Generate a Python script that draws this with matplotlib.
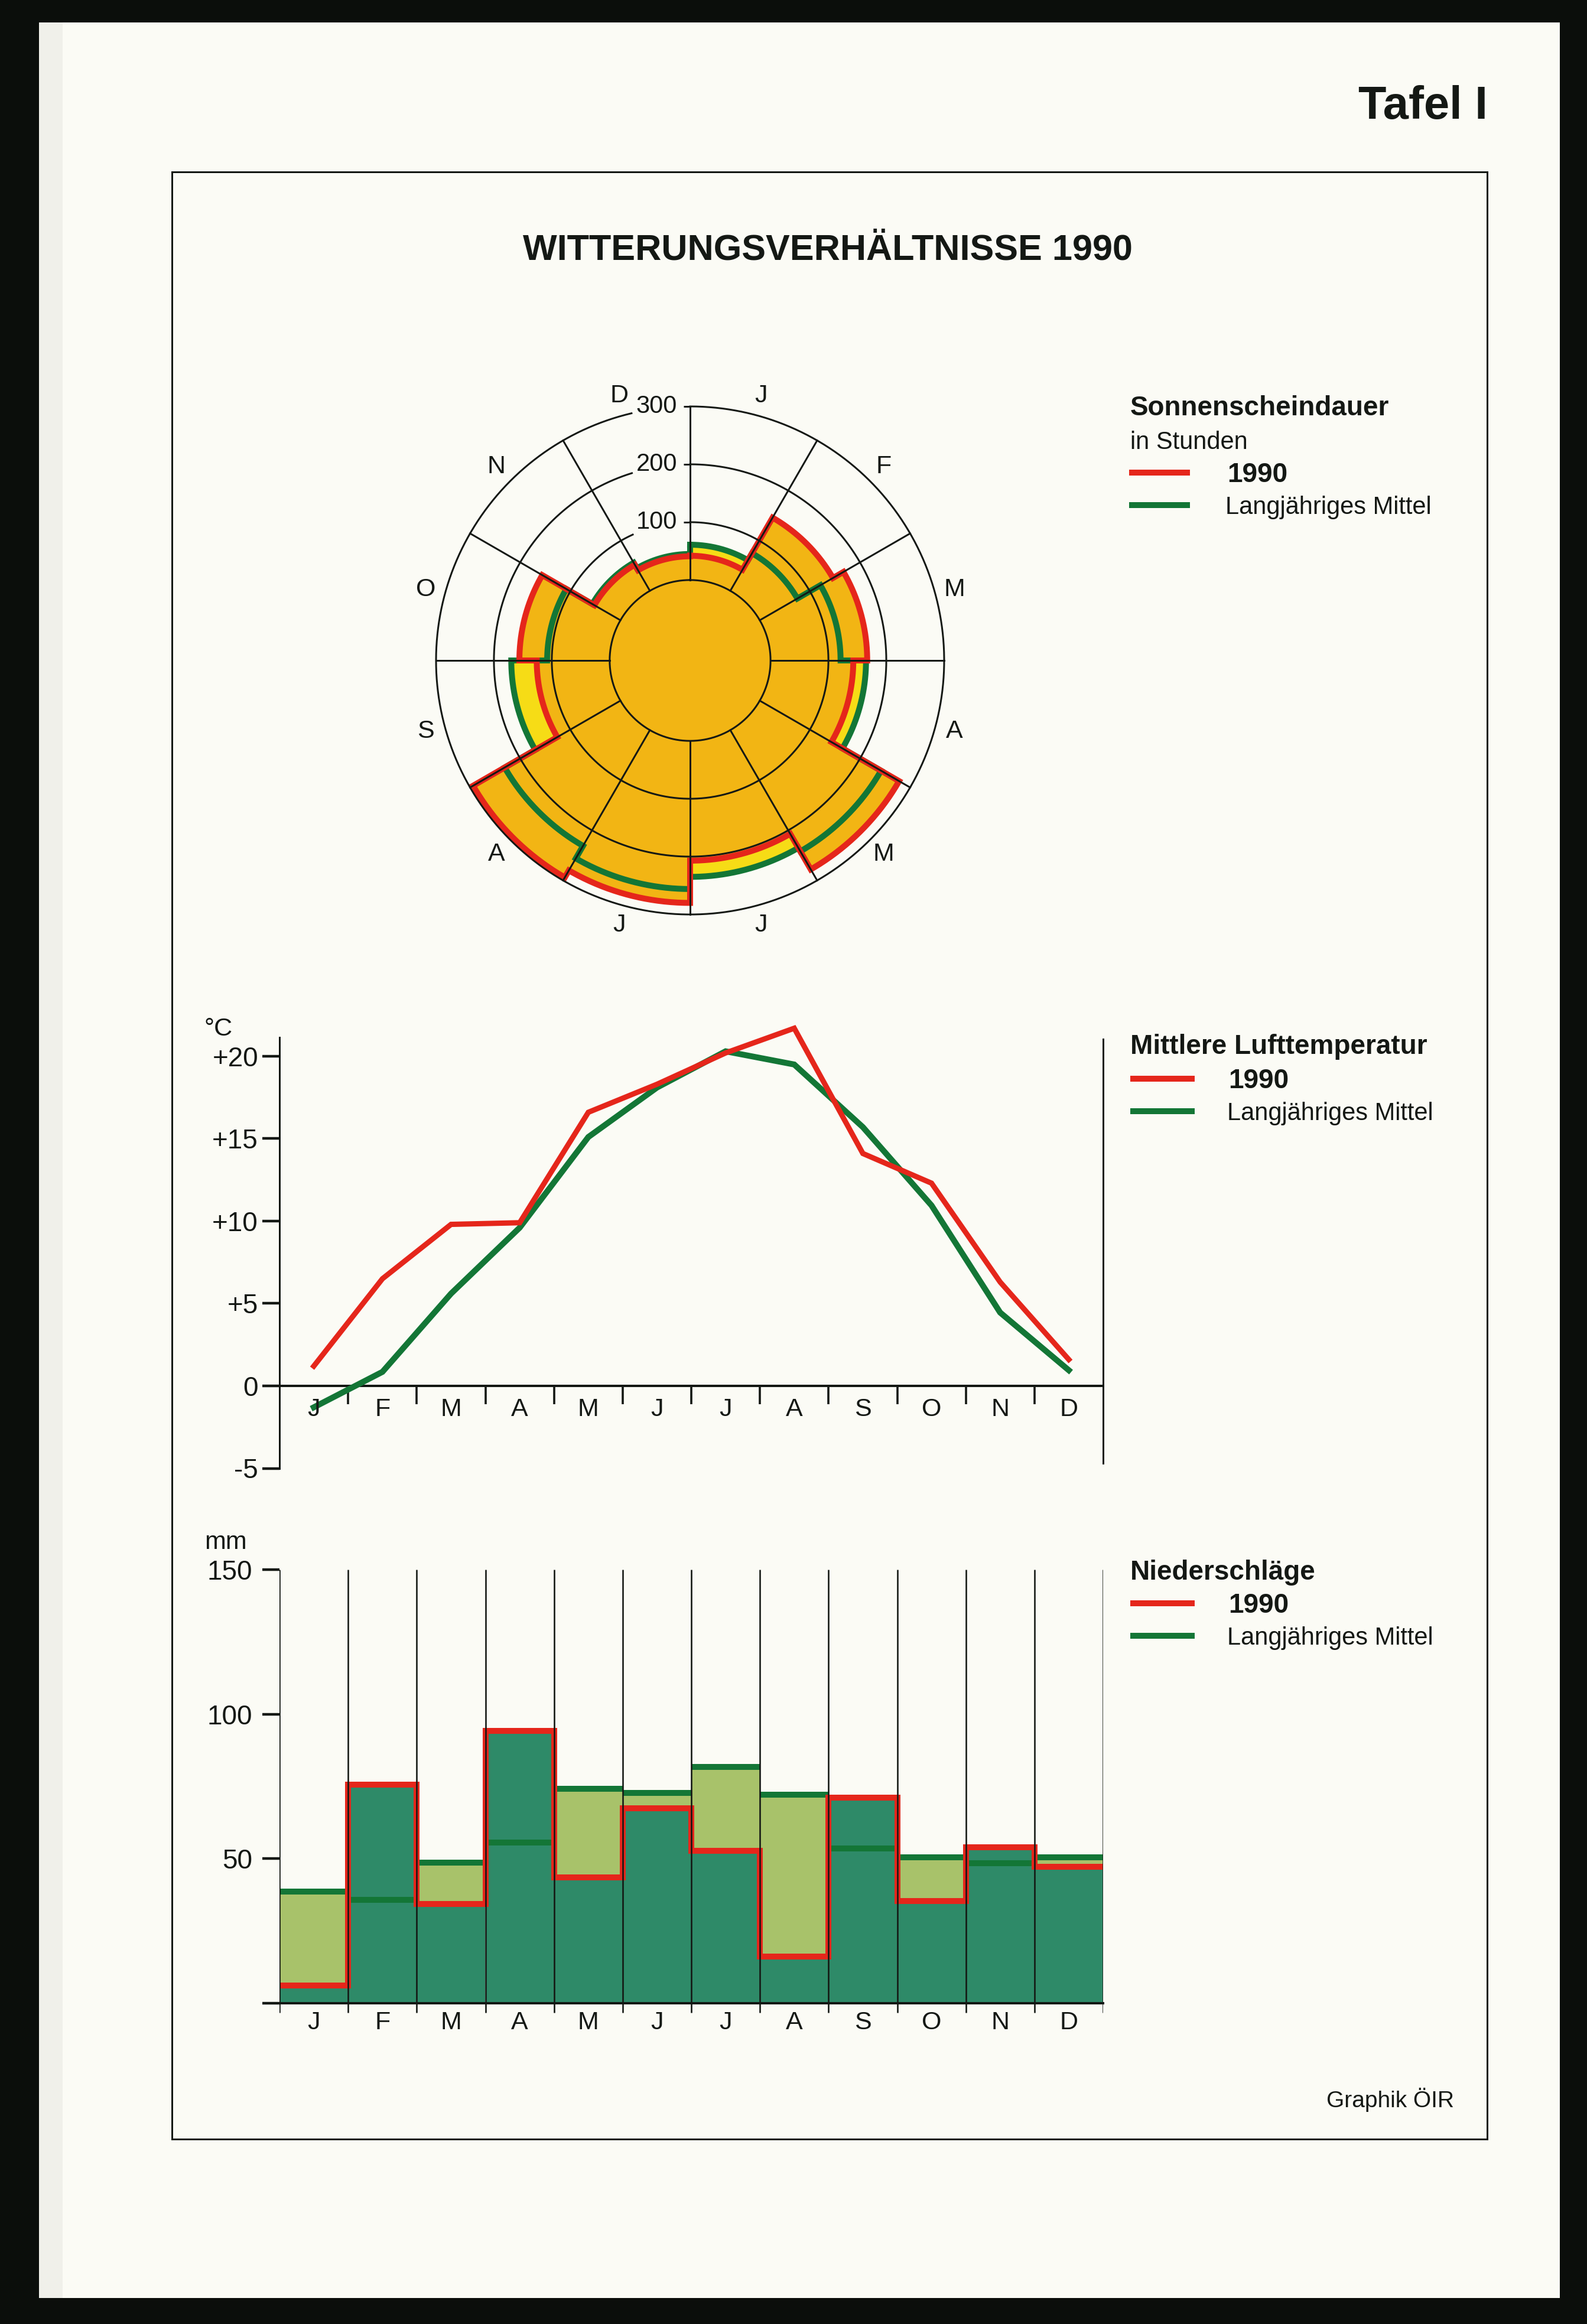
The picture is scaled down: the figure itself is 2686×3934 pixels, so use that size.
import numpy as np
import matplotlib
matplotlib.use('Agg')
import matplotlib.pyplot as plt
from matplotlib.patches import Rectangle

plt.rcParams['font.family'] = ['Liberation Sans', 'DejaVu Sans']

# ---------------- data ----------------
months = ['J', 'F', 'M', 'A', 'M', 'J', 'J', 'A', 'S', 'O', 'N', 'D']

# Sonnenscheindauer (hours)
sun_1990 = [42, 146, 167, 143, 278, 207, 280, 294, 126, 156, 52, 41]
sun_mean = [61, 75, 121, 165, 242, 235, 256, 231, 170, 108, 56, 45]
sun_rings = [100, 200, 300]

# Mittlere Lufttemperatur (deg C)
temp_1990 = [1.2, 6.5, 9.8, 9.9, 16.6, 18.3, 20.2, 21.7, 14.1, 12.3, 6.3, 1.6]
temp_mean = [-1.3, 0.85, 5.6, 9.6, 15.1, 18.1, 20.3, 19.5, 15.7, 10.95, 4.45, 0.95]
temp_ticks = [-5, 0, 5, 10, 15, 20]
temp_ticklabels = ['-5', '0', '+5', '+10', '+15', '+20']

# Niederschlaege (mm)
prec_1990 = [6.2, 75.6, 34.4, 94.2, 43.5, 67.4, 52.7, 16.2, 71.1, 35.4, 53.9, 47.3]
prec_mean = [38.6, 35.7, 48.6, 55.6, 74.2, 72.7, 81.8, 72.1, 53.5, 50.4, 48.4, 50.4]
prec_ticks = [0, 50, 100, 150]
prec_ticklabels = ['', '50', '100', '150']

# ---------------- style ----------------
W, H = 2686, 3934
DPI = 100
PX = 72.0 / DPI          # points per pixel
PAPER = '#FBFBF5'
INK = '#141814'
RED = '#E5261B'
GREEN = '#137636'
ORANGE = '#F2B514'
YELLOW = '#F6DC16'
TEAL = '#2E8A68'
LIGHT = '#A8C26A'
LW_DATA = 10 * PX
LW_GRID = 3 * PX

fig = plt.figure(figsize=(W / DPI, H / DPI), dpi=DPI, facecolor='#0b0e0b')


def rect(x0, y0, x1, y1):
    return [x0 / W, 1 - y1 / H, (x1 - x0) / W, (y1 - y0) / H]


# background / page in pixel coordinates
bg = fig.add_axes([0, 0, 1, 1], zorder=0)
bg.set_xlim(0, W)
bg.set_ylim(H, 0)
bg.axis('off')
bg.add_patch(Rectangle((66, 38), 2640 - 66, 3890 - 38, facecolor=PAPER, edgecolor='none'))
bg.add_patch(Rectangle((66, 38), 40, 3890 - 38, facecolor='#F0F0EA', edgecolor='none'))
bg.add_patch(Rectangle((291, 291), 2517 - 291, 3621 - 291, facecolor='none',
                       edgecolor=INK, lw=3 * PX))


def put(x, yc, s, size, weight='normal', ha='left'):
    em = size / PX
    bg.text(x, yc + 0.716 * em / 2, s, fontsize=size, fontweight=weight,
            ha=ha, va='baseline', color=INK)


def legline(x0, x1, y, c):
    bg.plot([x0, x1], [y, y], color=c, lw=10 * PX, solid_capstyle='butt')


put(2518, 173, 'Tafel I', 56, 'bold', ha='right')
put(1401, 418, 'WITTERUNGSVERHÄLTNISSE 1990', 44, 'bold', ha='center')

# legend 1
put(1913, 687, 'Sonnenscheindauer', 33, 'bold')
put(1913, 745, 'in Stunden', 30)
legline(1911, 2014, 800, RED)
put(2077, 800, '1990', 33, 'bold')
legline(1911, 2014, 855, GREEN)
put(2074, 855, 'Langjähriges Mittel', 30)

# legend 2
put(1913, 1768, 'Mittlere Lufttemperatur', 33, 'bold')
legline(1913, 2022, 1826, RED)
put(2079, 1826, '1990', 33, 'bold')
legline(1913, 2022, 1881, GREEN)
put(2077, 1881, 'Langjähriges Mittel', 30)

# legend 3
put(1913, 2658, 'Niederschläge', 33, 'bold')
legline(1913, 2022, 2714, RED)
put(2079, 2714, '1990', 33, 'bold')
legline(1913, 2022, 2769, GREEN)
put(2077, 2769, 'Langjähriges Mittel', 30)

put(2461, 3553, 'Graphik ÖIR', 28, ha='right')
put(346, 1738, '°C', 31)
put(346, 2607, 'mm', 31)

# ---------------- polar: Sonnenscheindauer ----------------
CX, CY, RPX = 1168, 1118, 430
R0 = 139
axp = fig.add_axes(rect(CX - RPX, CY - RPX, CX + RPX, CY + RPX), projection='polar', zorder=2)
axp.set_theta_zero_location('N')
axp.set_theta_direction(-1)
axp.set_ylim(-R0, 300)
axp.axis('off')

edges = np.deg2rad(np.arange(13) * 30.0)
s90 = np.array(sun_1990, float)
smn = np.array(sun_mean, float)
axp.bar(edges[:-1], s90 + R0, width=np.pi / 6, bottom=-R0, align='edge',
        color=ORANGE, edgecolor=ORANGE, lw=1, zorder=1)
more = smn > s90
axp.bar(edges[:-1][more], (smn - s90)[more], width=np.pi / 6, bottom=s90[more],
        align='edge', color=YELLOW, edgecolor=YELLOW, lw=0.5, zorder=1)


def polar_step(vals, n=60):
    th, rr = [], []
    for i, v in enumerate(vals):
        t = np.linspace(edges[i], edges[i + 1], n)
        th.extend(t)
        rr.extend([v] * n)
    th.append(edges[-1])
    rr.append(vals[0])
    return np.array(th), np.array(rr)


th, rr = polar_step(sun_mean)
axp.plot(th, rr, color=GREEN, lw=LW_DATA, solid_joinstyle='miter', clip_on=False, zorder=3)
th, rr = polar_step(sun_1990)
axp.plot(th, rr, color=RED, lw=LW_DATA, solid_joinstyle='miter', clip_on=False, zorder=4)

full = np.linspace(0, 2 * np.pi, 721)
axp.plot(full, np.zeros_like(full), color=INK, lw=LW_GRID, clip_on=False, zorder=6)
for v in sun_rings:
    rpx = (v + R0) * RPX / (300 + R0)
    gap = 100.0 / rpx
    t = np.linspace(0, 2 * np.pi - gap, 721)
    axp.plot(t, np.full_like(t, v), color=INK, lw=LW_GRID, clip_on=False, zorder=6)
for e in edges[:-1]:
    axp.plot([e, e], [0, 300], color=INK, lw=LW_GRID, clip_on=False, zorder=6)
for v in sun_rings:
    axp.plot([0], [v], marker=0, ms=11 * PX, mew=3 * PX, color=INK, clip_on=False, zorder=6)
    axp.annotate(str(v), xy=(0, v), xytext=(-22, 0), textcoords='offset pixels',
                 ha='right', va='center', fontsize=30, color=INK)
for i, m in enumerate(months):
    axp.text(np.deg2rad(i * 30 + 15), 334, m, ha='center', va='center',
             fontsize=31, color=INK)

# ---------------- temperature ----------------
XL, XR = 473, 1867
x_mid = np.arange(12) + 0.5
axt = fig.add_axes(rect(XL, 1755.9, XR, 2485.5), zorder=2)
axt.patch.set_visible(False)
axt.set_xlim(0, 12)
axt.set_ylim(-5, 21.15)
axt.spines['top'].set_visible(False)
axt.spines['bottom'].set_position(('data', 0))
axt.spines['right'].set_bounds(-4.7, 21.05)
axt.spines['left'].set_linewidth(3 * PX)
axt.spines['right'].set_linewidth(3 * PX)
axt.spines['bottom'].set_linewidth(4 * PX)
for s in axt.spines.values():
    s.set_color(INK)
axt.set_xticks(np.arange(1, 12))
axt.tick_params(axis='x', direction='out', length=22, width=2.6, labelbottom=False, color=INK)
axt.yaxis.set_ticks_position('left')
axt.set_yticks(temp_ticks)
axt.set_yticklabels(temp_ticklabels)
axt.tick_params(axis='y', direction='out', length=21, width=3.2, pad=5, labelsize=33,
                color=INK, labelcolor=INK)
axt.plot(x_mid, temp_mean, color=GREEN, lw=10 * PX, solid_joinstyle='miter',
         clip_on=False, zorder=3)
axt.plot(x_mid, temp_1990, color=RED, lw=9 * PX, solid_joinstyle='miter',
         clip_on=False, zorder=4)
for i, m in enumerate(months):
    axt.text(x_mid[i], -1.45, m, ha='center', va='center', fontsize=31, color=INK)

# ---------------- precipitation ----------------
axq = fig.add_axes(rect(XL, 2652.1, XR, 3408.1), zorder=2)
axq.patch.set_visible(False)
axq.set_xlim(0, 12)
axq.set_ylim(-3.5, 151)
for s in ['top', 'right', 'left']:
    axq.spines[s].set_visible(False)
axq.spines['bottom'].set_position(('data', 0))
axq.spines['bottom'].set_linewidth(4 * PX)
axq.spines['bottom'].set_color(INK)
axq.set_xticks([])
axq.yaxis.set_ticks_position('left')
axq.set_yticks(prec_ticks)
axq.set_yticklabels(prec_ticklabels)
axq.tick_params(axis='y', direction='out', length=21, width=3.2, pad=12, labelsize=33,
                color=INK, labelcolor=INK)

p90 = np.array(prec_1990, float)
pmn = np.array(prec_mean, float)
xs = np.arange(12)
axq.bar(xs, p90, width=1, align='edge', color=TEAL, lw=0, zorder=1)
m = pmn > p90
axq.bar(xs[m], (pmn - p90)[m], width=1, bottom=p90[m], align='edge', color=LIGHT, lw=0, zorder=1)
axq.hlines(pmn, xs, xs + 1, color=GREEN, lw=10 * PX, zorder=2)
axq.stairs(p90, np.arange(13), baseline=None, color=RED, lw=10 * PX, zorder=3)
axq.vlines(np.arange(13), -3.3, 150, color=INK, lw=2.6 * PX, zorder=4)
for i, mth in enumerate(months):
    axq.text(x_mid[i], -6.8, mth, ha='center', va='center', fontsize=31, color=INK)

fig.savefig('out.png', dpi=DPI, facecolor=fig.get_facecolor())
